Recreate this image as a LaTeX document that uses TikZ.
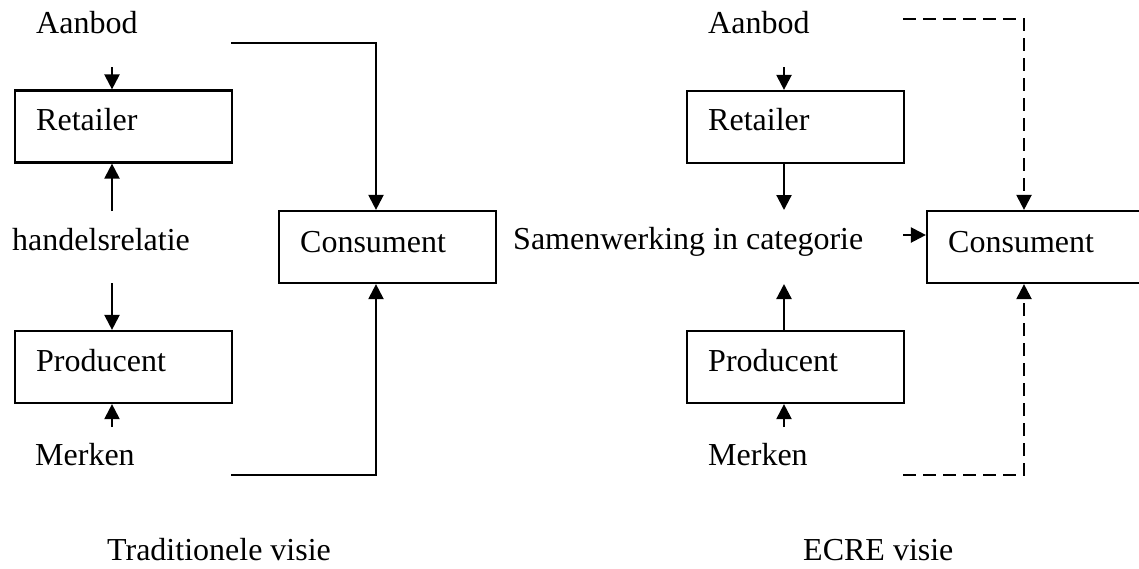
\documentclass[tikz,border=0pt]{standalone}
\usepackage{fontspec}
\setmainfont{Liberation Serif}
\usetikzlibrary{arrows.meta}
\begin{document}
\begin{tikzpicture}[x=1pt,y=-1pt,
  every node/.style={font=\fontsize{32}{38}\selectfont, inner sep=0pt},
  boxnode/.style={draw, line width=2.2pt, minimum width=217pt, minimum height=72pt, inner sep=0pt},
  lbl/.style={anchor=base west},
  conn/.style={line width=2.2pt, -{Triangle[length=15pt,width=15pt]}},
  dconn/.style={conn, dash pattern=on 13pt off 7pt}
]
\clip (0,0) rectangle (1139,568);
\useasboundingbox (0,0) rectangle (1139,568);

% ---------- left: traditionele visie ----------
\node[boxnode] (ret1) at (123.5,126.5) {};
\node[boxnode] (pro1) at (123.5,367) {};
\node[boxnode] (con1) at (387.5,247) {};

\node[lbl] (aan1) at (36,33) {Aanbod};
\node[lbl] (ret1t) at (36,130) {Retailer};
\node[lbl] (han1) at (12,250) {handelsrelatie};
\node[lbl] (pro1t) at (36,371) {Producent};
\node[lbl] (mer1) at (35,465) {Merken};
\node[lbl] (con1t) at (300,252) {Consument};
\node[lbl] (trad) at (107,560) {Traditionele visie};

\coordinate (a1s) at (112,67);
\coordinate (h1u) at (112,211);
\coordinate (h1d) at (112,283);
\coordinate (m1s) at (112,427);
\coordinate (a1l) at (231,43);
\coordinate (m1l) at (231,475);

\draw[conn] (a1s) -- (a1s |- ret1.north);
\draw[conn] (h1u) -- (h1u |- ret1.south);
\draw[conn] (h1d) -- (h1d |- pro1.north);
\draw[conn] (m1s) -- (m1s |- pro1.south);
\draw[conn] (a1l) -| ([xshift=-11.5pt]con1.north);
\draw[conn] (m1l) -| ([xshift=-11.5pt]con1.south);

% ---------- right: ECRE visie ----------
\node[boxnode] (ret2) at (795.5,127) {};
\node[boxnode] (pro2) at (795.5,367) {};
\node[boxnode] (con2) at (1035.5,247) {};

\node[lbl] (aan2) at (708,33) {Aanbod};
\node[lbl] (ret2t) at (708,130) {Retailer};
\node[lbl] (sam) at (513,249) {Samenwerking in categorie};
\node[lbl] (pro2t) at (708,371) {Producent};
\node[lbl] (mer2) at (708,465) {Merken};
\node[lbl] (con2t) at (948,252) {Consument};
\node[lbl] (ecre) at (803,560) {ECRE visie};

\coordinate (a2s) at (784,67);
\coordinate (s2u) at (784,210);
\coordinate (s2d) at (784,284);
\coordinate (m2s) at (784,427);
\coordinate (s2r) at (903,235);
\coordinate (a2l) at (903,19);
\coordinate (m2l) at (903,475);

\draw[conn] (a2s) -- (a2s |- ret2.north);
\draw[conn] (s2u |- ret2.south) -- (s2u);
\draw[conn] (s2d |- pro2.north) -- (s2d);
\draw[conn] (m2s) -- (m2s |- pro2.south);
\draw[conn] (s2r) -- (s2r -| con2.west);
\draw[dconn] (a2l) -| ([xshift=-11.5pt]con2.north);
\draw[dconn] (m2l) -| ([xshift=-11.5pt]con2.south);
\end{tikzpicture}
\end{document}
